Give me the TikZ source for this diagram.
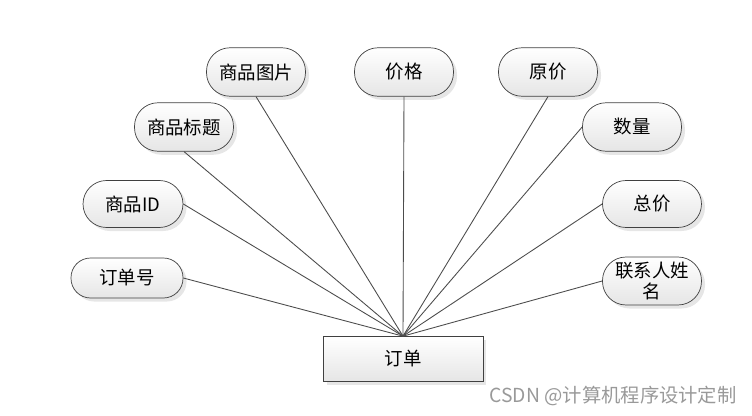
\documentclass[tikz,border=0pt]{standalone}
\usepackage{fontspec}
\newfontfamily\cjk{Noto Sans CJK SC}
\usepackage{tikz}
\usetikzlibrary{shadows}

\tikzset{
  attr/.style={draw=black!75, rounded corners=0.47cm, minimum width=1.98cm, minimum height=0.97cm,
    top color=white, bottom color=black!10,
    drop shadow={opacity=0.2, shadow xshift=2pt, shadow yshift=-2pt},
    font=\cjk\fontsize{10.5}{12}\selectfont, inner sep=1pt, align=center},
  entity/.style={draw=black!75, rectangle, minimum width=3.2cm, minimum height=0.9cm,
    top color=white, bottom color=black!10,
    drop shadow={opacity=0.2, shadow xshift=2pt, shadow yshift=-2pt},
    font=\cjk\fontsize{10.5}{12}\selectfont},
  link/.style={draw=black!70, line width=0.5pt}
}

\begin{document}
\begin{tikzpicture}[x=0.02cm,y=-0.02cm]
\useasboundingbox (0,0) rectangle (752,416);
% entity
\node[entity] (dd) at (403,359) {订单};
% attributes, left side
\node[attr, minimum width=2.24cm, minimum height=0.8cm, rounded corners=0.39cm] (ddh) at (127,278) {订单号};
\node[attr, minimum width=2cm, minimum height=0.94cm] (spid) at (133,204) {商品ID};
\node[attr] (spbt) at (184,127) {商品标题};
\node[attr] (sptp) at (256,72) {商品图片};
% attributes, top and right side
\node[attr] (jg) at (404,72) {价格};
\node[attr] (yj) at (548,72) {原价};
\node[attr] (sl) at (632,127) {数量};
\node[attr, minimum height=0.94cm] (zj) at (652,204) {总价};
\node[attr, minimum height=0.96cm] (lxr) at (652,281) {联系人姓\\名};
% connectors
\draw[link] (ddh.east) -- (dd.north);
\draw[link] (spid.east) -- (dd.north);
\draw[link] (spbt.south) -- (dd.north);
\draw[link] (sptp.south) -- (dd.north);
\draw[link] (jg.south) -- (dd.north);
\draw[link] (yj.south) -- (dd.north);
\draw[link] (sl.west) -- (dd.north);
\draw[link] (zj.west) -- (dd.north);
\draw[link] (lxr.west) -- (dd.north);
% watermark
\node[font=\cjk\fontsize{11}{13}\selectfont, text=black!40, anchor=east, inner sep=0pt] (csdn) at (737,396) {CSDN @计算机程序设计定制};
\end{tikzpicture}
\end{document}
